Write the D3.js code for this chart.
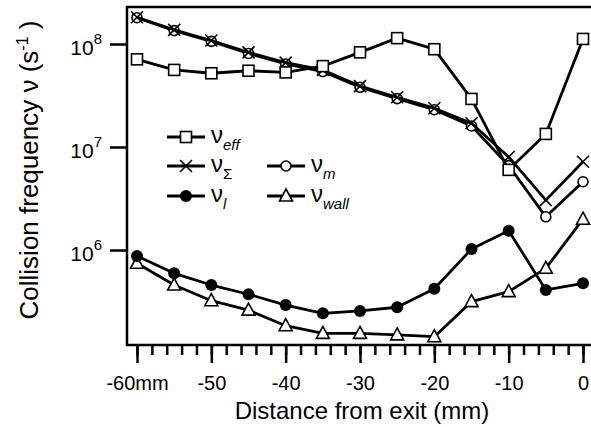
<!DOCTYPE html>
<html>
<head>
<meta charset="utf-8">
<script src="https://cdn.jsdelivr.net/npm/d3@7/dist/d3.min.js"></script>
<style>
  body { margin: 0; background: #fff; }
  text { font-family: "Liberation Sans", Arial, sans-serif; fill: #000; }
</style>
</head>
<body>
<svg width="591" height="427"></svg>
<script>
// distance from exit (mm)
var distance = [-60, -55, -50, -45, -40, -35, -30, -25, -20, -15, -10, -5, 0];

var nuEff   = [7.1e7, 5.6e7, 5.2e7, 5.5e7, 5.3e7, 6.1e7, 8.3e7, 1.14e8, 8.9e7, 2.93e7, 6.0e6, 1.34e7, 1.12e8];
var nuSigma = [1.82e8, 1.37e8, 1.08e8, 8.3e7, 6.6e7, 5.6e7, 3.9e7, 3.04e7, 2.38e7, 1.7e7, 8.0e6, 3.05e6, 7.2e6];
var nuM     = [1.8e8, 1.35e8, 1.06e8, 8.1e7, 6.4e7, 5.4e7, 3.8e7, 2.95e7, 2.3e7, 1.6e7, 6.6e6, 2.1e6, 4.6e6];
var nuL     = [8.75e5, 5.94e5, 4.57e5, 3.72e5, 2.92e5, 2.43e5, 2.56e5, 2.78e5, 4.21e5, 1.02e6, 1.54e6, 4.09e5, 4.75e5];
var nuWall  = [7.43e5, 4.57e5, 3.22e5, 2.61e5, 1.84e5, 1.55e5, 1.55e5, 1.5e5, 1.44e5, 3.15e5, 3.94e5, 6.64e5, 1.99e6];

var xTicks = [-60, -50, -40, -30, -20, -10, 0];
var xTickLabels = ["-60mm", "-50", "-40", "-30", "-20", "-10", "0"];
var yTicks = [1e6, 1e7, 1e8];
var yTickExp = ["6", "7", "8"];

var svg = d3.select("svg");

var x = d3.scaleLinear().domain([-60, 0]).range([137, 583]);
var y = d3.scaleLog().domain([Math.pow(10, 6 - 95 / 103), Math.pow(10, 8 + 37 / 103)]).range([345, 7]);

var plotL = 127, plotT = 7, plotB = 345, plotR = 591;

// frame: left, top, bottom
svg.append("path")
  .attr("d", "M" + plotR + "," + plotT + "H" + plotL + "V" + plotB + "H" + plotR)
  .attr("fill", "none")
  .attr("stroke", "#000")
  .attr("stroke-width", 2.5);

// x axis ticks (minor every 2 mm)
var gx = svg.append("g").attr("transform", "translate(0," + plotB + ")");
gx.call(d3.axisBottom(x).tickValues(d3.range(-60, 1, 2)).tickSize(10).tickFormat(""))
  .select(".domain").remove();
gx.selectAll(".tick line").attr("stroke-width", 2.5);
var gx2 = svg.append("g").attr("transform", "translate(0," + plotB + ")");
gx2.call(d3.axisBottom(x).tickValues(xTicks).tickSize(18).tickFormat((d, i) => xTickLabels[i]))
  .select(".domain").remove();
gx2.selectAll(".tick line").attr("stroke-width", 2.5);
gx2.selectAll(".tick text")
  .attr("font-size", 20)
  .attr("font-family", "Liberation Sans, Arial, sans-serif")
  .attr("y", 31)
  .attr("dy", "0.71em");

// y axis ticks
var gy = svg.append("g").attr("transform", "translate(" + plotL + ",0)");
gy.call(d3.axisLeft(y).tickValues(yTicks).tickSize(17).tickFormat(""))
  .select(".domain").remove();
gy.selectAll(".tick line").attr("stroke-width", 2.5);

svg.append("g").selectAll("text")
  .data(yTicks)
  .join("text")
  .attr("x", 102)
  .attr("y", d => y(d) + 11)
  .attr("text-anchor", "end")
  .attr("font-size", 21)
  .call(t => {
    t.append("tspan").text("10");
    t.append("tspan").attr("font-size", 15).attr("dy", -11).text((d, i) => yTickExp[i]);
  });

// axis titles
svg.append("text")
  .attr("x", 362)
  .attr("y", 419)
  .attr("text-anchor", "middle")
  .attr("font-size", 24)
  .text("Distance from exit (mm)");

var yt = svg.append("text")
  .attr("transform", "translate(38,170) rotate(-90)")
  .attr("text-anchor", "middle")
  .attr("font-size", 26);
yt.append("tspan").text("Collision frequency ν (s");
yt.append("tspan").attr("font-size", 16).attr("dy", -10).text("-1");
yt.append("tspan").attr("dy", 10).text(" )");

// markers
function marker(g, type) {
  if (type === "square") {
    g.append("rect").attr("x", -5.5).attr("y", -5.5).attr("width", 11).attr("height", 11)
      .attr("fill", "#fff").attr("stroke", "#000").attr("stroke-width", 1.6);
  } else if (type === "cross") {
    g.append("path").attr("d", "M-6,-6L6,6M-6,6L6,-6")
      .attr("stroke", "#000").attr("stroke-width", 1.6);
  } else if (type === "circle") {
    g.append("circle").attr("r", 5)
      .attr("fill", "#fff").attr("stroke", "#000").attr("stroke-width", 1.6);
  } else if (type === "dot") {
    g.append("circle").attr("r", 6).attr("fill", "#000");
  } else if (type === "triangle") {
    g.append("path").attr("d", "M0,-7L6.5,5L-6.5,5Z")
      .attr("fill", "#fff").attr("stroke", "#000").attr("stroke-width", 1.6);
  }
}

var series = [
  {values: nuWall, type: "triangle", sub: "wall", italic: true},
  {values: nuL, type: "dot", sub: "l", italic: true},
  {values: nuM, type: "circle", sub: "m", italic: true},
  {values: nuSigma, type: "cross", sub: "Σ", italic: false},
  {values: nuEff, type: "square", sub: "eff", italic: true}
];

var line = d3.line()
  .x(d => x(d[0]))
  .y(d => y(d[1]));

series.forEach(function(s) {
  var pts = distance.map((d, i) => [d, s.values[i]]);
  svg.append("path")
    .datum(pts)
    .attr("fill", "none")
    .attr("stroke", "#000")
    .attr("stroke-width", 2.8)
    .attr("stroke-linejoin", "round")
    .attr("d", line);
  svg.append("g").selectAll("g")
    .data(pts)
    .join("g")
    .attr("transform", d => "translate(" + x(d[0]) + "," + y(d[1]) + ")")
    .each(function() { marker(d3.select(this), s.type); });
});

// legend
var legendItems = [
  {s: series[4], lx: 167, ly: 137},
  {s: series[3], lx: 167, ly: 166},
  {s: series[1], lx: 167, ly: 196},
  {s: series[2], lx: 267, ly: 166},
  {s: series[0], lx: 267, ly: 196}
];

legendItems.forEach(function(it) {
  var g = svg.append("g").attr("transform", "translate(" + it.lx + "," + it.ly + ")");
  g.append("line").attr("x1", 0).attr("x2", 38).attr("stroke", "#000").attr("stroke-width", 2.8);
  var m = g.append("g").attr("transform", "translate(19,0)");
  marker(m, it.s.type);
  var t = g.append("text").attr("x", 44).attr("y", 6).attr("font-size", 24);
  t.append("tspan").text("ν");
  t.append("tspan")
    .attr("font-size", 15)
    .attr("dy", 7)
    .attr("font-style", it.s.italic ? "italic" : "normal")
    .text(it.s.sub);
});
</script>
</body>
</html>
